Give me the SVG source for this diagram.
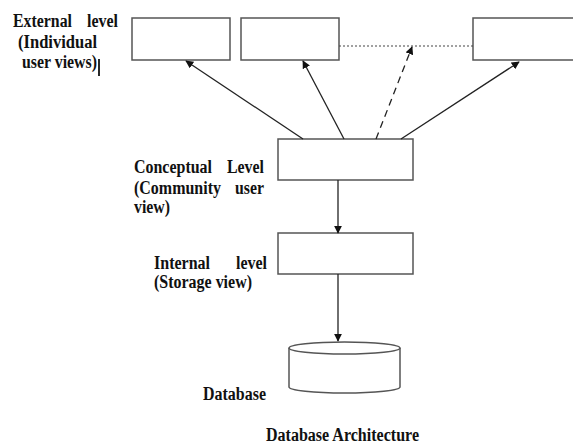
<svg xmlns="http://www.w3.org/2000/svg" width="573" height="445" viewBox="0 0 573 445">
<style>
.box{fill:#fff;stroke:#555;stroke-width:1.5}
.ln{stroke:#222;stroke-width:1.3;fill:none}
text{font-family:"Liberation Serif","Times New Roman",serif;font-weight:bold;font-size:18.5px;fill:#111}
</style>
<defs>
<marker id="ah" viewBox="0 0 10 10" refX="9" refY="5" markerWidth="8" markerHeight="8" markerUnits="userSpaceOnUse" orient="auto">
<path d="M0,0 L10,5 L0,10 z" fill="#111"/>
</marker>
</defs>
<rect width="573" height="445" fill="#fff"/>
<g id="ext1"><rect class="box" x="132" y="18" width="98" height="42"/></g>
<g id="ext2"><rect class="box" x="241" y="18" width="98" height="42"/></g>
<g id="ext3"><rect class="box" x="473" y="18" width="102" height="42"/></g>
<g id="conceptual"><rect class="box" x="278" y="139" width="135" height="41"/></g>
<g id="internal"><rect class="box" x="278" y="233" width="135" height="41"/></g>
<g id="database">
<path class="box" d="M289,348 L289,387 A55.5,6 0 0 0 400,387 L400,348"/>
<ellipse class="box" cx="344.5" cy="348" rx="55.5" ry="6"/>
</g>
<g id="connectors">
<line x1="339" y1="46" x2="473" y2="46" stroke="#444" stroke-width="1.2" stroke-dasharray="2,2"/>
<line class="ln" x1="303" y1="139" x2="186" y2="61" marker-end="url(#ah)"/>
<line class="ln" x1="344" y1="139" x2="303" y2="61" marker-end="url(#ah)"/>
<line class="ln" x1="376" y1="139" x2="412" y2="47" stroke-dasharray="7,5" marker-end="url(#ah)"/>
<line class="ln" x1="401" y1="139" x2="519" y2="62" marker-end="url(#ah)"/>
<line class="ln" x1="338" y1="180" x2="338" y2="233" marker-end="url(#ah)"/>
<line class="ln" x1="338" y1="274" x2="338" y2="341" marker-end="url(#ah)"/>
</g>
<g id="labels">
<text x="13" y="27" textLength="59" lengthAdjust="spacingAndGlyphs">External</text>
<text x="87" y="27" textLength="31" lengthAdjust="spacingAndGlyphs">level</text>
<text x="18" y="48" textLength="79" lengthAdjust="spacingAndGlyphs">(Individual</text>
<text x="22" y="68" textLength="75" lengthAdjust="spacingAndGlyphs">user views)</text>
<line x1="99" y1="59" x2="99" y2="76" stroke="#111" stroke-width="1.8"/>
<text x="134" y="173" textLength="78" lengthAdjust="spacingAndGlyphs">Conceptual</text>
<text x="227" y="173" textLength="37" lengthAdjust="spacingAndGlyphs">Level</text>
<text x="134" y="194" textLength="87" lengthAdjust="spacingAndGlyphs">(Community</text>
<text x="235" y="194" textLength="29" lengthAdjust="spacingAndGlyphs">user</text>
<text x="134" y="213" textLength="36" lengthAdjust="spacingAndGlyphs">view)</text>
<text x="154" y="269" textLength="56" lengthAdjust="spacingAndGlyphs">Internal</text>
<text x="236" y="269" textLength="31" lengthAdjust="spacingAndGlyphs">level</text>
<text x="154" y="288" textLength="98" lengthAdjust="spacingAndGlyphs">(Storage view)</text>
<text x="203" y="400" textLength="63" lengthAdjust="spacingAndGlyphs">Database</text>
<text x="266" y="441" textLength="153" lengthAdjust="spacingAndGlyphs">Database Architecture</text>
</g>
</svg>
